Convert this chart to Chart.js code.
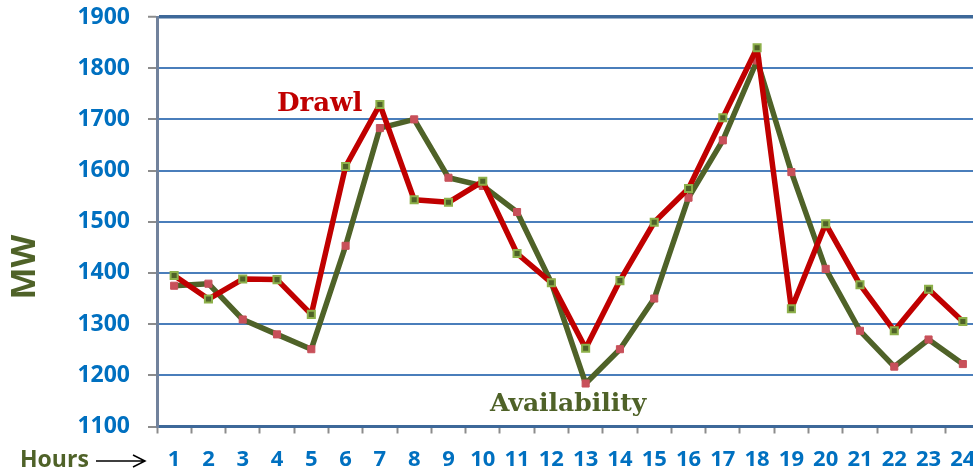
<!DOCTYPE HTML>
<html lang="en">

<head>
    <meta charset="UTF-8">
    <title>Drawl vs Availability</title>
    <script src="https://cdn.jsdelivr.net/npm/chart.js@4.4.1/dist/chart.umd.min.js"></script>
    <style>
        html, body { margin: 0; padding: 0; overflow: hidden; background: #fff; }
        canvas { display: block; }
    </style>
</head>

<body>

    <canvas id="canvas" width="990" height="474"></canvas>

    <script>
        // hours 1..24
        var hours = ['1', '2', '3', '4', '5', '6', '7', '8', '9', '10', '11', '12',
            '13', '14', '15', '16', '17', '18', '19', '20', '21', '22', '23', '24'];

        // MW
        var drawl = [1395, 1349, 1388, 1387, 1319, 1608, 1729, 1543, 1538, 1579, 1438, 1381,
            1253, 1385, 1499, 1565, 1703, 1840, 1330, 1496, 1377, 1287, 1368, 1305];
        var availability = [1375, 1379, 1309, 1280, 1251, 1453, 1683, 1700, 1586, 1570, 1519, 1381,
            1184, 1251, 1350, 1547, 1659, 1815, 1597, 1408, 1287, 1217, 1270, 1222];

        var yMin = 1100, yMax = 1900, yStep = 100;

        var RED = '#c00000';
        var OLIVE = '#4f6228';
        var BLUE_TXT = '#0070c0';

        // free text on the chart: series names, axis title, "Hours ->"
        var labelsPlugin = {
            id: 'labels',
            afterDraw: function (chart) {
                var ctx = chart.ctx;
                ctx.save();
                ctx.textBaseline = 'alphabetic';
                ctx.textAlign = 'left';

                ctx.font = 'bold 26px "DejaVu Serif"';
                ctx.fillStyle = RED;
                ctx.fillText('Drawl', 277, 111);

                ctx.font = 'bold 25px "DejaVu Serif"';
                ctx.fillStyle = OLIVE;
                ctx.fillText('Availability', 490, 411);

                ctx.font = 'bold 23px "Open Sans"';
                ctx.fillText('Hours', 20, 467);

                ctx.strokeStyle = '#000';
                ctx.lineWidth = 1.5;
                ctx.beginPath();
                ctx.moveTo(96, 461);
                ctx.lineTo(145, 461);
                ctx.moveTo(133, 455);
                ctx.lineTo(145, 461);
                ctx.lineTo(133, 467);
                ctx.stroke();

                ctx.translate(25, 267);
                ctx.rotate(-Math.PI / 2);
                ctx.textAlign = 'center';
                ctx.textBaseline = 'middle';
                ctx.font = 'bold 34px "Open Sans"';
                ctx.fillText('MW', 0, 0);
                ctx.restore();
            }
        };

        var ctx = document.getElementById('canvas').getContext('2d');
        window.myChart = new Chart(ctx, {
            type: 'line',
            data: {
                labels: hours,
                datasets: [{
                    label: 'Drawl',
                    data: drawl,
                    borderColor: RED,
                    borderWidth: 5.5,
                    borderJoinStyle: 'round',
                    tension: 0,
                    pointStyle: 'rect',
                    pointRadius: 5,
                    pointBackgroundColor: OLIVE,
                    pointBorderColor: '#8db04a',
                    pointBorderWidth: 2,
                }, {
                    label: 'Availability',
                    data: availability,
                    borderColor: OLIVE,
                    borderWidth: 5.5,
                    borderJoinStyle: 'round',
                    tension: 0,
                    pointStyle: 'rect',
                    pointRadius: 5,
                    pointBackgroundColor: '#c8505a',
                    pointBorderColor: '#c8505a',
                    pointBorderWidth: 1,
                }],
            },
            options: {
                responsive: false,
                animation: false,
                layout: {
                    padding: { top: 17, right: 10, left: 0, bottom: 0 }
                },
                plugins: {
                    legend: { display: false },
                    tooltip: { enabled: false }
                },
                scales: {
                    x: {
                        offset: true,
                        afterFit: function (scale) {
                            scale.height = 47.5;
                            scale.paddingLeft = 0;
                            scale.paddingRight = 0;
                        },
                        grid: {
                            offset: true,
                            drawOnChartArea: false,
                            drawTicks: true,
                            tickLength: 7,
                            tickColor: '#8c8c8c',
                            tickWidth: 2,
                        },
                        border: { color: '#3d6899', width: 3 },
                        ticks: {
                            color: BLUE_TXT,
                            font: { family: 'Open Sans', weight: 'bold', size: 22 },
                            padding: 13,
                            maxRotation: 0,
                            autoSkip: false
                        }
                    },
                    y: {
                        min: yMin,
                        max: yMax,
                        afterFit: function (scale) {
                            scale.width = 157;
                            scale.paddingTop = 0;
                            scale.paddingBottom = 0;
                        },
                        grid: {
                            color: function (c) { return c.tick && c.tick.value === yMax ? '#3d6899' : '#4a7ebb'; },
                            lineWidth: function (c) { return c.tick && c.tick.value === yMax ? 3.5 : 2; },
                            tickLength: 9,
                            tickColor: '#8c8c8c',
                            tickWidth: 2,
                        },
                        border: { color: '#71829c', width: 3 },
                        ticks: {
                            stepSize: yStep,
                            color: BLUE_TXT,
                            font: { family: 'Open Sans', weight: 'bold', size: 23 },
                            padding: 18,
                            callback: function (v) { return String(v); }
                        }
                    }
                }
            },
            plugins: [labelsPlugin]
        });
    </script>
</body>

</html>
